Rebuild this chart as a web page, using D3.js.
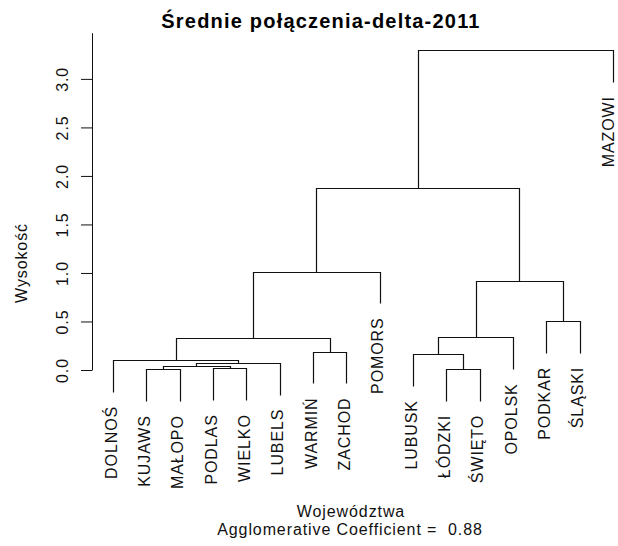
<!DOCTYPE html>
<html>
<head>
<meta charset="utf-8">
<script src="https://cdn.jsdelivr.net/npm/d3@7"></script>
<style>
body { margin: 0; background: #fff; }
text { font-family: "Liberation Sans", Arial, sans-serif; fill: #111; white-space: pre; }
</style>
</head>
<body>
<div id="chart"></div>
<script>
// leaves in plotting order
var leaves = ["DOLNOŚ", "KUJAWS", "MAŁOPO", "PODLAS", "WIELKO", "LUBELS", "WARMIŃ", "ZACHOD",
	"POMORS", "LUBUSK", "ŁÓDZKI", "ŚWIĘTO", "OPOLSK", "PODKAR", "ŚLĄSKI", "MAZOWI"];

// merges like R's hclust: negative = leaf number, positive = earlier merge
var mergeLeft   = [-2, -11, -4, 1, 4, -1, -10, -7, 6, 7, -14, 10, 9, 13, 14];
var mergeRight  = [-3, -12, -5, 3, -6, 5, 2, -8, 8, -13, -15, 11, -9, 12, -16];
var mergeHeight = [0.007, 0.010, 0.017, 0.040, 0.075, 0.103, 0.162, 0.190, 0.333, 0.335, 0.506, 0.920, 1.015, 1.878, 3.295];

var yTicks = [0, 0.5, 1, 1.5, 2, 2.5, 3];

var title = "Średnie połączenia-delta-2011";
var xTitle = "Województwa";
var subTitle = "Agglomerative Coefficient =  0.88";
var yTitle = "Wysokość";

var width = 618, height = 546;

var svg = d3.select("#chart").append("svg")
	.attr("width", width)
	.attr("height", height);

var x = d3.scaleLinear().domain([1, leaves.length]).range([113, 613]);
var y = d3.scaleLinear().domain([0, 3.476]).range([370, 32.7]);

// hang like plot.hclust: 0.1 of the height range
var hang = 0.1 * (d3.max(mergeHeight) - d3.min(mergeHeight));

var nodes = [];
function xOf(id) { return id < 0 ? x(-id) : nodes[id - 1].x; }

mergeHeight.forEach(function(h, i) {
	var l = mergeLeft[i], r = mergeRight[i];
	nodes.push({ x: (xOf(l) + xOf(r)) / 2, h: h, l: l, r: r });
});

function bottomOf(id, h) { return id < 0 ? h - hang : mergeHeight[id - 1]; }
function px(v) { return Math.round(v) + 0.5; }

svg.append("g").selectAll("path")
	.data(nodes)
	.enter().append("path")
	.attr("d", function(d) {
		return "M" + px(xOf(d.l)) + "," + px(y(bottomOf(d.l, d.h))) +
			"V" + px(y(d.h)) + "H" + px(xOf(d.r)) +
			"V" + px(y(bottomOf(d.r, d.h)));
	})
	.style("fill", "none")
	.style("stroke", "#111")
	.style("stroke-width", 1.2);

// leaf labels, rotated, hanging under each leaf line
var leafBottom = {};
nodes.forEach(function(d) {
	if (d.l < 0) leafBottom[-d.l] = d.h - hang;
	if (d.r < 0) leafBottom[-d.r] = d.h - hang;
});

// keep the last label (MAZOWI) inside the page
var maxLabelX = width - 8;

svg.append("g").selectAll("text")
	.data(leaves)
	.enter().append("text")
	.attr("transform", function(d, i) {
		var tx = Math.min(x(i + 1), maxLabelX);
		return "translate(" + tx + "," + (y(leafBottom[i + 1]) + 14) + ") rotate(-90)";
	})
	.attr("dy", "0.22em")
	.attr("text-anchor", "end")
	.style("font-size", "16px")
	.style("letter-spacing", "0.9px")
	.text(function(d) { return d; });

// y axis
var axis = svg.append("g")
	.attr("transform", "translate(92,0)")
	.call(d3.axisLeft(y).tickValues(yTicks).tickFormat(d3.format(".1f")).tickSize(11).tickSizeOuter(0));

axis.select(".domain").style("stroke", "#111");
axis.selectAll(".tick line").style("stroke", "#111");
axis.selectAll(".tick text")
	.attr("transform", "rotate(-90)")
	.attr("x", 0)
	.attr("y", -24.5)
	.attr("dy", 0)
	.attr("text-anchor", "middle")
	.style("font-family", "Liberation Sans, Arial, sans-serif")
	.style("font-size", "16px")
	.style("letter-spacing", "0.9px")
	.style("fill", "#111");

svg.append("text")
	.attr("x", 321)
	.attr("y", 28)
	.attr("text-anchor", "middle")
	.style("font-size", "20px")
	.style("font-weight", "bold")
	.style("letter-spacing", "1.2px")
	.style("fill", "#000")
	.text(title);

svg.append("text")
	.attr("transform", "translate(27,263) rotate(-90)")
	.attr("text-anchor", "middle")
	.style("font-size", "16px")
	.style("letter-spacing", "0.9px")
	.text(yTitle);

svg.append("text")
	.attr("x", 351)
	.attr("y", 517)
	.attr("text-anchor", "middle")
	.style("font-size", "16px")
	.style("letter-spacing", "0.9px")
	.text(xTitle);

svg.append("text")
	.attr("x", 350)
	.attr("y", 535)
	.attr("text-anchor", "middle")
	.style("font-size", "16px")
	.style("letter-spacing", "0.9px")
	.text(subTitle);
</script>
</body>
</html>
